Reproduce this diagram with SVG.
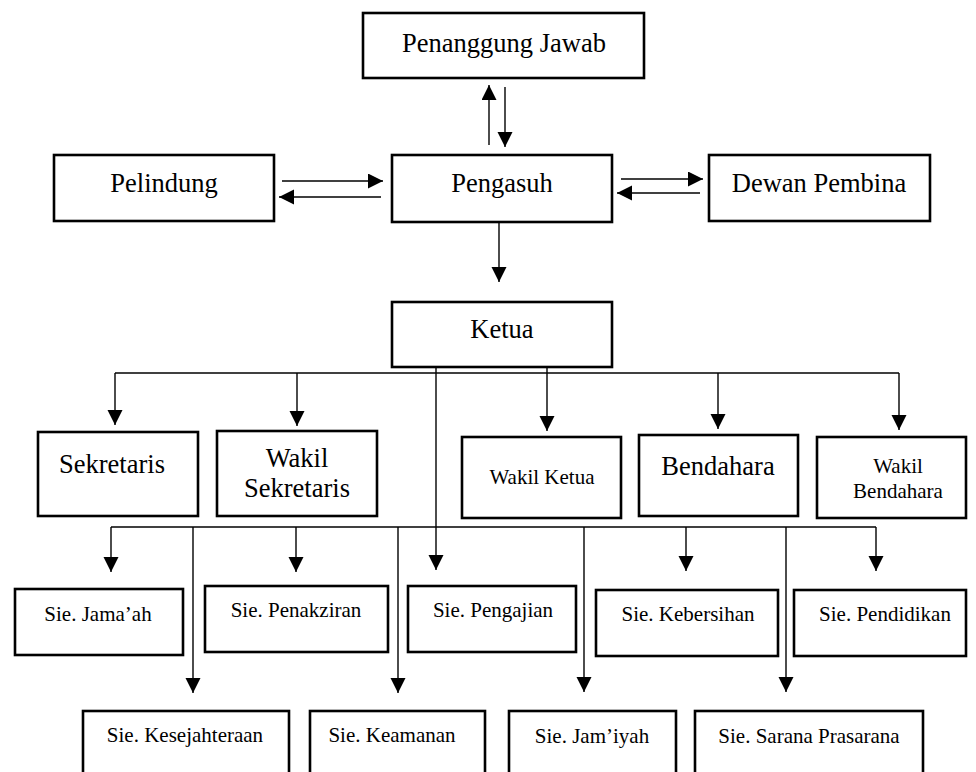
<svg xmlns="http://www.w3.org/2000/svg" width="976" height="772" viewBox="0 0 976 772">
<defs>
<style>
.box{fill:#fff;stroke:#000;stroke-width:2.6}
.ln{fill:none;stroke:#000;stroke-width:1.4}
text{font-family:"Liberation Serif","Times New Roman",serif;fill:#000;text-anchor:middle;font-size:21px}
</style>
<marker id="ah" markerUnits="userSpaceOnUse" markerWidth="16" markerHeight="16" refX="15" refY="7.5" orient="auto" viewBox="0 0 16 16">
<polygon points="0,0 15,7.5 0,15" fill="#000"/>
</marker>
</defs>
<rect width="976" height="772" fill="#fff"/>

<g id="connectors">
<line class="ln" x1="489" y1="145" x2="489" y2="85" marker-end="url(#ah)"/>
<line class="ln" x1="505" y1="87" x2="505" y2="147" marker-end="url(#ah)"/>
<line class="ln" x1="282" y1="181" x2="383" y2="181" marker-end="url(#ah)"/>
<line class="ln" x1="381" y1="197" x2="279" y2="197" marker-end="url(#ah)"/>
<line class="ln" x1="621" y1="179" x2="703" y2="179" marker-end="url(#ah)"/>
<line class="ln" x1="700" y1="193" x2="617" y2="193" marker-end="url(#ah)"/>
<line class="ln" x1="499" y1="222" x2="499" y2="282" marker-end="url(#ah)"/>
<line class="ln" x1="115" y1="373" x2="899" y2="373"/>
<line class="ln" x1="115" y1="373" x2="115" y2="425" marker-end="url(#ah)"/>
<line class="ln" x1="297" y1="373" x2="297" y2="426" marker-end="url(#ah)"/>
<line class="ln" x1="547" y1="367" x2="547" y2="431" marker-end="url(#ah)"/>
<line class="ln" x1="718" y1="373" x2="718" y2="429" marker-end="url(#ah)"/>
<line class="ln" x1="899" y1="373" x2="899" y2="430" marker-end="url(#ah)"/>
<line class="ln" x1="436" y1="367" x2="436" y2="570" marker-end="url(#ah)"/>
<line class="ln" x1="111" y1="527" x2="876" y2="527"/>
<line class="ln" x1="111" y1="527" x2="111" y2="572" marker-end="url(#ah)"/>
<line class="ln" x1="296" y1="527" x2="296" y2="572" marker-end="url(#ah)"/>
<line class="ln" x1="686" y1="527" x2="686" y2="571" marker-end="url(#ah)"/>
<line class="ln" x1="876" y1="527" x2="876" y2="571" marker-end="url(#ah)"/>
<line class="ln" x1="193" y1="527" x2="193" y2="693" marker-end="url(#ah)"/>
<line class="ln" x1="398" y1="527" x2="398" y2="693" marker-end="url(#ah)"/>
<line class="ln" x1="584" y1="527" x2="584" y2="692" marker-end="url(#ah)"/>
<line class="ln" x1="786" y1="527" x2="786" y2="692" marker-end="url(#ah)"/>
</g>

<g id="penanggung-jawab"><rect class="box" x="363" y="13" width="281" height="65"/><text transform="translate(504 52) scale(1.262)">Penanggung Jawab</text></g>
<g id="pelindung"><rect class="box" x="54" y="155" width="220" height="66"/><text transform="translate(164 192) scale(1.262)">Pelindung</text></g>
<g id="pengasuh"><rect class="box" x="392" y="155" width="220" height="67"/><text transform="translate(502 192) scale(1.262)">Pengasuh</text></g>
<g id="dewan-pembina"><rect class="box" x="709" y="155" width="221" height="66"/><text transform="translate(819 192) scale(1.262)">Dewan Pembina</text></g>
<g id="ketua"><rect class="box" x="392" y="302" width="220" height="65"/><text transform="translate(502 338) scale(1.262)">Ketua</text></g>

<g id="sekretaris"><rect class="box" x="38" y="432" width="160" height="84"/><text transform="translate(112 473) scale(1.262)">Sekretaris</text></g>
<g id="wakil-sekretaris"><rect class="box" x="217" y="431" width="160" height="85"/><text transform="translate(297 467) scale(1.262)">Wakil</text><text transform="translate(297 497) scale(1.262)">Sekretaris</text></g>
<g id="wakil-ketua"><rect class="box" x="462" y="437" width="159" height="81"/><text x="542" y="484">Wakil Ketua</text></g>
<g id="bendahara"><rect class="box" x="639" y="435" width="159" height="81"/><text transform="translate(718 475) scale(1.262)">Bendahara</text></g>
<g id="wakil-bendahara"><rect class="box" x="817" y="437" width="149" height="81"/><text x="898" y="473">Wakil</text><text x="898" y="498">Bendahara</text></g>

<g id="sie-jamaah"><rect class="box" x="15" y="589" width="168" height="66"/><text x="98" y="621">Sie. Jama’ah</text></g>
<g id="sie-penakziran"><rect class="box" x="205" y="586" width="183" height="66"/><text x="296" y="617">Sie. Penakziran</text></g>
<g id="sie-pengajian"><rect class="box" x="408" y="586" width="168" height="66"/><text x="493" y="617">Sie. Pengajian</text></g>
<g id="sie-kebersihan"><rect class="box" x="596" y="590" width="182" height="66"/><text x="688" y="621">Sie. Kebersihan</text></g>
<g id="sie-pendidikan"><rect class="box" x="794" y="590" width="172" height="66"/><text x="885" y="621">Sie. Pendidikan</text></g>

<g id="sie-kesejahteraan"><rect class="box" x="83" y="711" width="206" height="80"/><text x="185" y="742">Sie. Kesejahteraan</text></g>
<g id="sie-keamanan"><rect class="box" x="310" y="711" width="175" height="80"/><text x="392" y="742">Sie. Keamanan</text></g>
<g id="sie-jamiyah"><rect class="box" x="509" y="711" width="167" height="80"/><text x="592" y="743">Sie. Jam’iyah</text></g>
<g id="sie-sarana-prasarana"><rect class="box" x="695" y="711" width="228" height="80"/><text x="809" y="743">Sie. Sarana Prasarana</text></g>
</svg>
